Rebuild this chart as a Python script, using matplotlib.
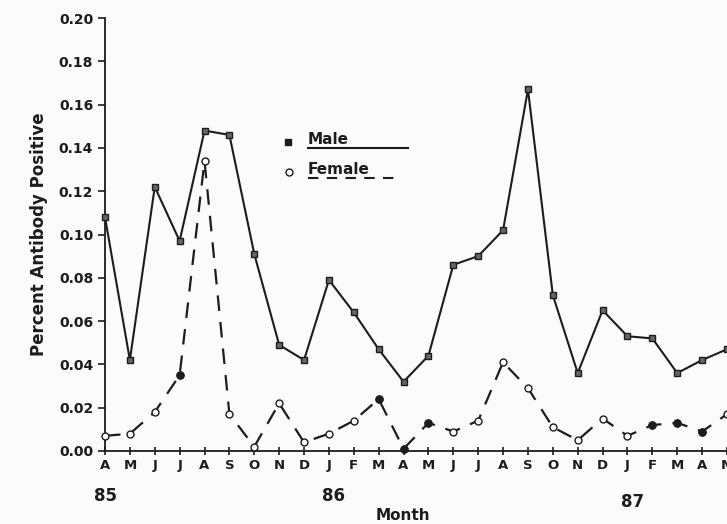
import matplotlib
matplotlib.use("Agg")
import matplotlib.pyplot as plt
from matplotlib.lines import Line2D

# ── Data ──────────────────────────────────────────────────────────────────────
months = ["A", "M", "J", "J", "A", "S", "O", "N", "D",
          "J", "F", "M", "A", "M", "J", "J", "A", "S", "O", "N", "D",
          "J", "F", "M", "A", "M"]
years = ["85", "86", "87"]
year_pos = [0, 9.2, 21.2]

male = [0.108, 0.042, 0.122, 0.097, 0.148, 0.146, 0.091, 0.049, 0.042,
        0.079, 0.064, 0.047, 0.032, 0.044, 0.086, 0.090, 0.102, 0.167,
        0.072, 0.036, 0.065, 0.053, 0.052, 0.036, 0.042, 0.047]
female = [0.007, 0.008, 0.018, 0.035, 0.134, 0.017, 0.002, 0.022, 0.004,
          0.008, 0.014, 0.024, 0.001, 0.013, 0.009, 0.014, 0.041, 0.029,
          0.011, 0.005, 0.015, 0.007, 0.012, 0.013, 0.009, 0.017]
female_filled = [3, 11, 12, 13, 22, 23, 24]

INK = "#1c1c1c"
BG = "#fbfbfb"

fig = plt.figure(figsize=(7.27, 5.24), dpi=100)
fig.patch.set_facecolor(BG)
ax = fig.add_axes([105 / 727, 1 - 451 / 524, 1 - 105 / 727, (451 - 18) / 524])
ax.set_facecolor(BG)

x = list(range(len(months)))

ax.plot(x, male, color=INK, linewidth=1.5, marker="s", markersize=5,
        markerfacecolor="#666666", markeredgecolor=INK, markeredgewidth=1.0,
        clip_on=False, zorder=3)
ax.plot(x, female, color=INK, linewidth=1.6, linestyle=(0, (7, 5)),
        marker="o", markersize=5, markerfacecolor="white",
        markeredgecolor=INK, markeredgewidth=1.0, clip_on=False, zorder=3)
ax.plot([x[i] for i in female_filled], [female[i] for i in female_filled],
        linestyle="none", marker="o", markersize=5, color=INK,
        clip_on=False, zorder=4)

ax.set_xlim(0, 25)
ax.set_ylim(0, 0.20)
ax.set_yticks([i * 0.02 for i in range(11)])
ax.set_yticklabels([f"{i * 0.02:.2f}" for i in range(11)],
                   fontsize=10, fontweight="bold", color=INK)
ax.set_xticks(x)
ax.set_xticklabels(months, fontsize=9.5, fontweight="bold", color=INK)
ax.tick_params(axis="both", color=INK, width=1.2, length=5)
ax.tick_params(axis="x", direction="inout", length=6, pad=3)

for s in ["top", "right"]:
    ax.spines[s].set_visible(False)
for s in ["left", "bottom"]:
    ax.spines[s].set_color(INK)
    ax.spines[s].set_linewidth(1.3)

ax.set_ylabel("Percent Antibody Positive", fontsize=12, fontweight="bold",
              color=INK, labelpad=8)

for yr, pos in zip(years, year_pos):
    ax.text(pos, -0.021 if yr != "87" else -0.0235, yr, ha="center", va="center",
            fontsize=12, fontweight="bold", color=INK)
fig.text(403 / 727, 1 - 516 / 524, "Month", ha="center", va="center",
         fontsize=11, fontweight="bold", color=INK)

# legend drawn by hand
fig.add_artist(Line2D([288 / 727], [1 - 142 / 524], marker="s", markersize=5,
                      color=INK, linestyle="none", transform=fig.transFigure))
fig.add_artist(Line2D([289 / 727], [1 - 172 / 524], marker="o", markersize=5,
                      markerfacecolor="white", markeredgecolor=INK,
                      linestyle="none", transform=fig.transFigure))
fig.text(308 / 727, 1 - 140 / 524, "Male", ha="left", va="center",
         fontsize=11, fontweight="bold", color=INK)
fig.text(308 / 727, 1 - 170 / 524, "Female", ha="left", va="center",
         fontsize=11, fontweight="bold", color=INK)
fig.add_artist(Line2D([308 / 727, 408 / 727], [1 - 148 / 524] * 2, color=INK,
                      linewidth=1.5, transform=fig.transFigure))
fig.add_artist(Line2D([308 / 727, 396 / 727], [1 - 178 / 524] * 2, color=INK,
                      linewidth=1.5, linestyle=(0, (5, 4)),
                      transform=fig.transFigure))

fig.savefig("out.png", dpi=100, facecolor=BG)
